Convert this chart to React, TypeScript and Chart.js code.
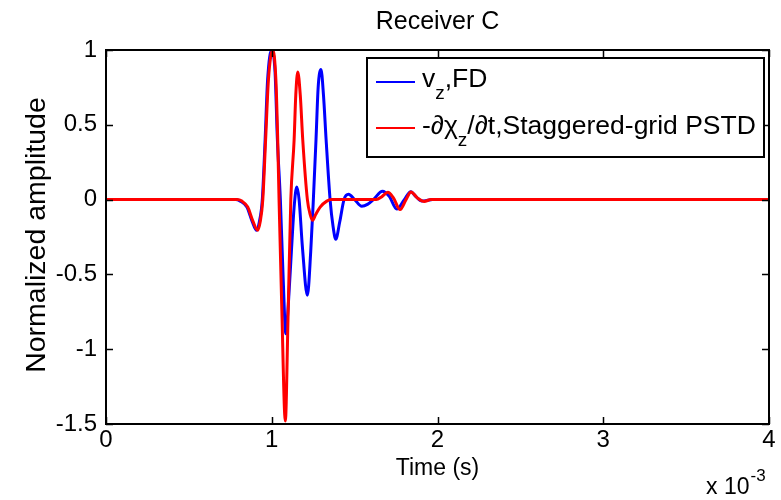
import React, { useEffect, useRef } from 'react';
import { Chart, registerables } from 'chart.js';

Chart.register(...registerables);

// ---- data (time in units of 1e-3 s) ----
const blueT = [0, 0.78, 0.81, 0.85, 0.88, 0.909, 0.925, 0.943, 0.96, 0.975, 1.0, 1.02, 1.034, 1.052, 1.068, 1.085, 1.1, 1.12, 1.135, 1.151, 1.165, 1.185, 1.215, 1.235, 1.251, 1.267, 1.28, 1.297, 1.312, 1.328, 1.352, 1.37, 1.386, 1.41, 1.436, 1.463, 1.5, 1.543, 1.58, 1.613, 1.668, 1.71, 1.754, 1.8, 1.839, 1.87, 1.905, 1.94, 1.97, 4];
const blueV = [0, 0, -0.01, -0.05, -0.14, -0.205, -0.15, 0, 0.4, 0.8, 1.0, 0.85, 0.4, 0, -0.5, -0.896, -0.7, -0.317, -0.05, 0.084, 0.0, -0.317, -0.64, -0.35, 0, 0.4, 0.75, 0.869, 0.7, 0.4, 0, -0.18, -0.265, -0.15, 0, 0.035, 0.0, -0.045, -0.03, 0, 0.055, 0.02, -0.063, 0.0, 0.053, 0.02, -0.01, -0.005, 0, 0];

const redT = [0, 0.79, 0.82, 0.855, 0.885, 0.915, 0.93, 0.946, 0.963, 0.98, 1.006, 1.025, 1.036, 1.044, 1.06, 1.082, 1.098, 1.115, 1.135, 1.145, 1.157, 1.172, 1.187, 1.215, 1.232, 1.247, 1.265, 1.292, 1.332, 1.36, 1.63, 1.665, 1.7, 1.735, 1.774, 1.81, 1.84, 1.88, 1.92, 1.96, 4];
const redV = [0, 0, -0.01, -0.05, -0.14, -0.205, -0.15, 0, 0.4, 0.8, 1.0, 0.8, 0.4, 0, -0.7, -1.48, -0.8, 0, 0.4, 0.7, 0.853, 0.7, 0.4, 0, -0.1, -0.138, -0.1, -0.05, -0.01, 0, 0, 0.02, 0.049, 0.01, -0.067, 0, 0.051, 0.01, -0.012, 0, 0];

const xTicks = [0, 1, 2, 3, 4];
const xTickLabels = ['0', '1', '2', '3', '4'];
const yTicks = [-1.5, -1, -0.5, 0, 0.5, 1];
const yTickLabels = ['-1.5', '-1', '-0.5', '0', '0.5', '1'];

const titleText = 'Receiver C';
const xTitle = 'Time (s)';
const yTitle = 'Normalized amplitude';
const xExpBase = 'x 10';
const xExpPow = '-3';

type Seg = { t: string; sub?: boolean; it?: boolean };
const legendRows: { color: string; segs: Seg[] }[] = [
  { color: '#0000ff', segs: [{ t: 'v' }, { t: 'z', sub: true }, { t: ',FD' }] },
  {
    color: '#ff0000',
    segs: [
      { t: '-' }, { t: '∂', it: true }, { t: 'χ' }, { t: 'z', sub: true },
      { t: '/' }, { t: '∂', it: true }, { t: 't,Staggered-grid PSTD' },
    ],
  },
];

const FONT = "'Liberation Sans', Arial, Helvetica, sans-serif";

const decorPlugin = {
  id: 'decor',
  afterDraw(chart: any) {
    const { ctx, chartArea, scales } = chart;
    const { left, right, top, bottom } = chartArea;
    const xs = scales.x;
    const ys = scales.y;
    ctx.save();
    // axes box
    ctx.strokeStyle = '#000';
    ctx.lineWidth = 2;
    ctx.strokeRect(left, top, right - left, bottom - top);
    // inward ticks
    ctx.lineWidth = 1.5;
    ctx.beginPath();
    const tl = 7;
    xTicks.forEach((t) => {
      const px = Math.round(xs.getPixelForValue(t)) + 0.5;
      ctx.moveTo(px, bottom); ctx.lineTo(px, bottom - tl);
      ctx.moveTo(px, top); ctx.lineTo(px, top + tl);
    });
    yTicks.forEach((v) => {
      const py = Math.round(ys.getPixelForValue(v)) + 0.5;
      ctx.moveTo(left, py); ctx.lineTo(left + tl, py);
      ctx.moveTo(right, py); ctx.lineTo(right - tl, py);
    });
    ctx.stroke();

    ctx.fillStyle = '#000';
    // title
    ctx.font = `25px ${FONT}`;
    ctx.textAlign = 'center';
    ctx.textBaseline = 'alphabetic';
    ctx.fillText(titleText, (left + right) / 2, 29);
    // x title
    ctx.font = `23px ${FONT}`;
    ctx.fillText(xTitle, (left + right) / 2, 475);
    // y title
    ctx.save();
    ctx.translate(45, 235);
    ctx.rotate(-Math.PI / 2);
    ctx.font = `28.5px ${FONT}`;
    ctx.textAlign = 'center';
    ctx.fillText(yTitle, 0, 0);
    ctx.restore();
    // exponent
    ctx.textAlign = 'left';
    ctx.font = `23px ${FONT}`;
    ctx.fillText(xExpBase, 706, 494);
    const w = ctx.measureText(xExpBase).width;
    ctx.font = `17px ${FONT}`;
    ctx.fillText(xExpPow, 706 + w + 1, 481);

    // legend
    const bx = 367, by = 58, bw = 397, bh = 99;
    ctx.fillStyle = '#fff';
    ctx.fillRect(bx, by, bw, bh);
    ctx.strokeStyle = '#000';
    ctx.lineWidth = 2;
    ctx.strokeRect(bx, by, bw, bh);
    const rowY = [82, 128];
    const baseY = [87, 134];
    legendRows.forEach((row, i) => {
      ctx.strokeStyle = row.color;
      ctx.lineWidth = 2;
      ctx.beginPath();
      ctx.moveTo(376, rowY[i]);
      ctx.lineTo(415, rowY[i]);
      ctx.stroke();
      let cx = 422;
      ctx.fillStyle = '#000';
      ctx.textAlign = 'left';
      row.segs.forEach((s) => {
        if (s.sub) {
          ctx.font = `19px ${FONT}`;
          ctx.fillText(s.t, cx, baseY[i] + 12);
        } else {
          ctx.font = `${s.it ? 'italic ' : ''}26.5px ${FONT}`;
          ctx.fillText(s.t, cx, baseY[i]);
        }
        cx += ctx.measureText(s.t).width;
      });
    });
    ctx.restore();
  },
};

export default function App() {
  const ref = useRef<HTMLCanvasElement>(null);
  useEffect(() => {
    if (!ref.current) return;
    const chart = new Chart(ref.current, {
      type: 'line',
      data: {
        datasets: [
          {
            label: 'vz,FD',
            data: blueT.map((t, i) => ({ x: t, y: blueV[i] })),
            borderColor: '#0000ff',
            borderWidth: 3,
            pointRadius: 0,
            cubicInterpolationMode: 'monotone',
            fill: false,
            order: 2,
          },
          {
            label: '-dchi_z/dt,Staggered-grid PSTD',
            data: redT.map((t, i) => ({ x: t, y: redV[i] })),
            borderColor: '#ff0000',
            borderWidth: 3,
            pointRadius: 0,
            cubicInterpolationMode: 'monotone',
            fill: false,
            order: 1,
          },
        ],
      },
      options: {
        animation: false,
        responsive: false,
        devicePixelRatio: 1,
        layout: { padding: { left: 0, right: 12, top: 50, bottom: 0 } },
        plugins: { legend: { display: false }, title: { display: false }, tooltip: { enabled: false } },
        scales: {
          x: {
            type: 'linear',
            min: 0,
            max: 4,
            afterFit: (s: any) => { s.height = 76; },
            afterBuildTicks: (s: any) => { s.ticks = xTicks.map((v) => ({ value: v })); },
            ticks: {
              autoSkip: false,
              maxRotation: 0,
              padding: 2,
              color: '#000',
              font: { family: FONT, size: 24 },
              callback: (v: any) => xTickLabels[xTicks.indexOf(Number(v))] ?? '',
            },
            grid: { display: false, drawTicks: false },
            border: { display: false },
          },
          y: {
            type: 'linear',
            min: -1.5,
            max: 1,
            afterFit: (s: any) => { s.width = 106; },
            afterBuildTicks: (s: any) => { s.ticks = yTicks.map((v) => ({ value: v })); },
            ticks: {
              autoSkip: false,
              padding: 9,
              color: '#000',
              font: { family: FONT, size: 24 },
              callback: (v: any) => yTickLabels[yTicks.indexOf(Number(v))] ?? '',
            },
            grid: { display: false, drawTicks: false },
            border: { display: false },
          },
        },
      },
      plugins: [decorPlugin],
    } as any);
    return () => chart.destroy();
  }, []);
  return (
    <div style={{ position: 'fixed', left: 0, top: 0, width: 781, height: 500, background: '#fff' }}>
      <canvas ref={ref} width={781} height={500} style={{ display: 'block' }} />
    </div>
  );
}
